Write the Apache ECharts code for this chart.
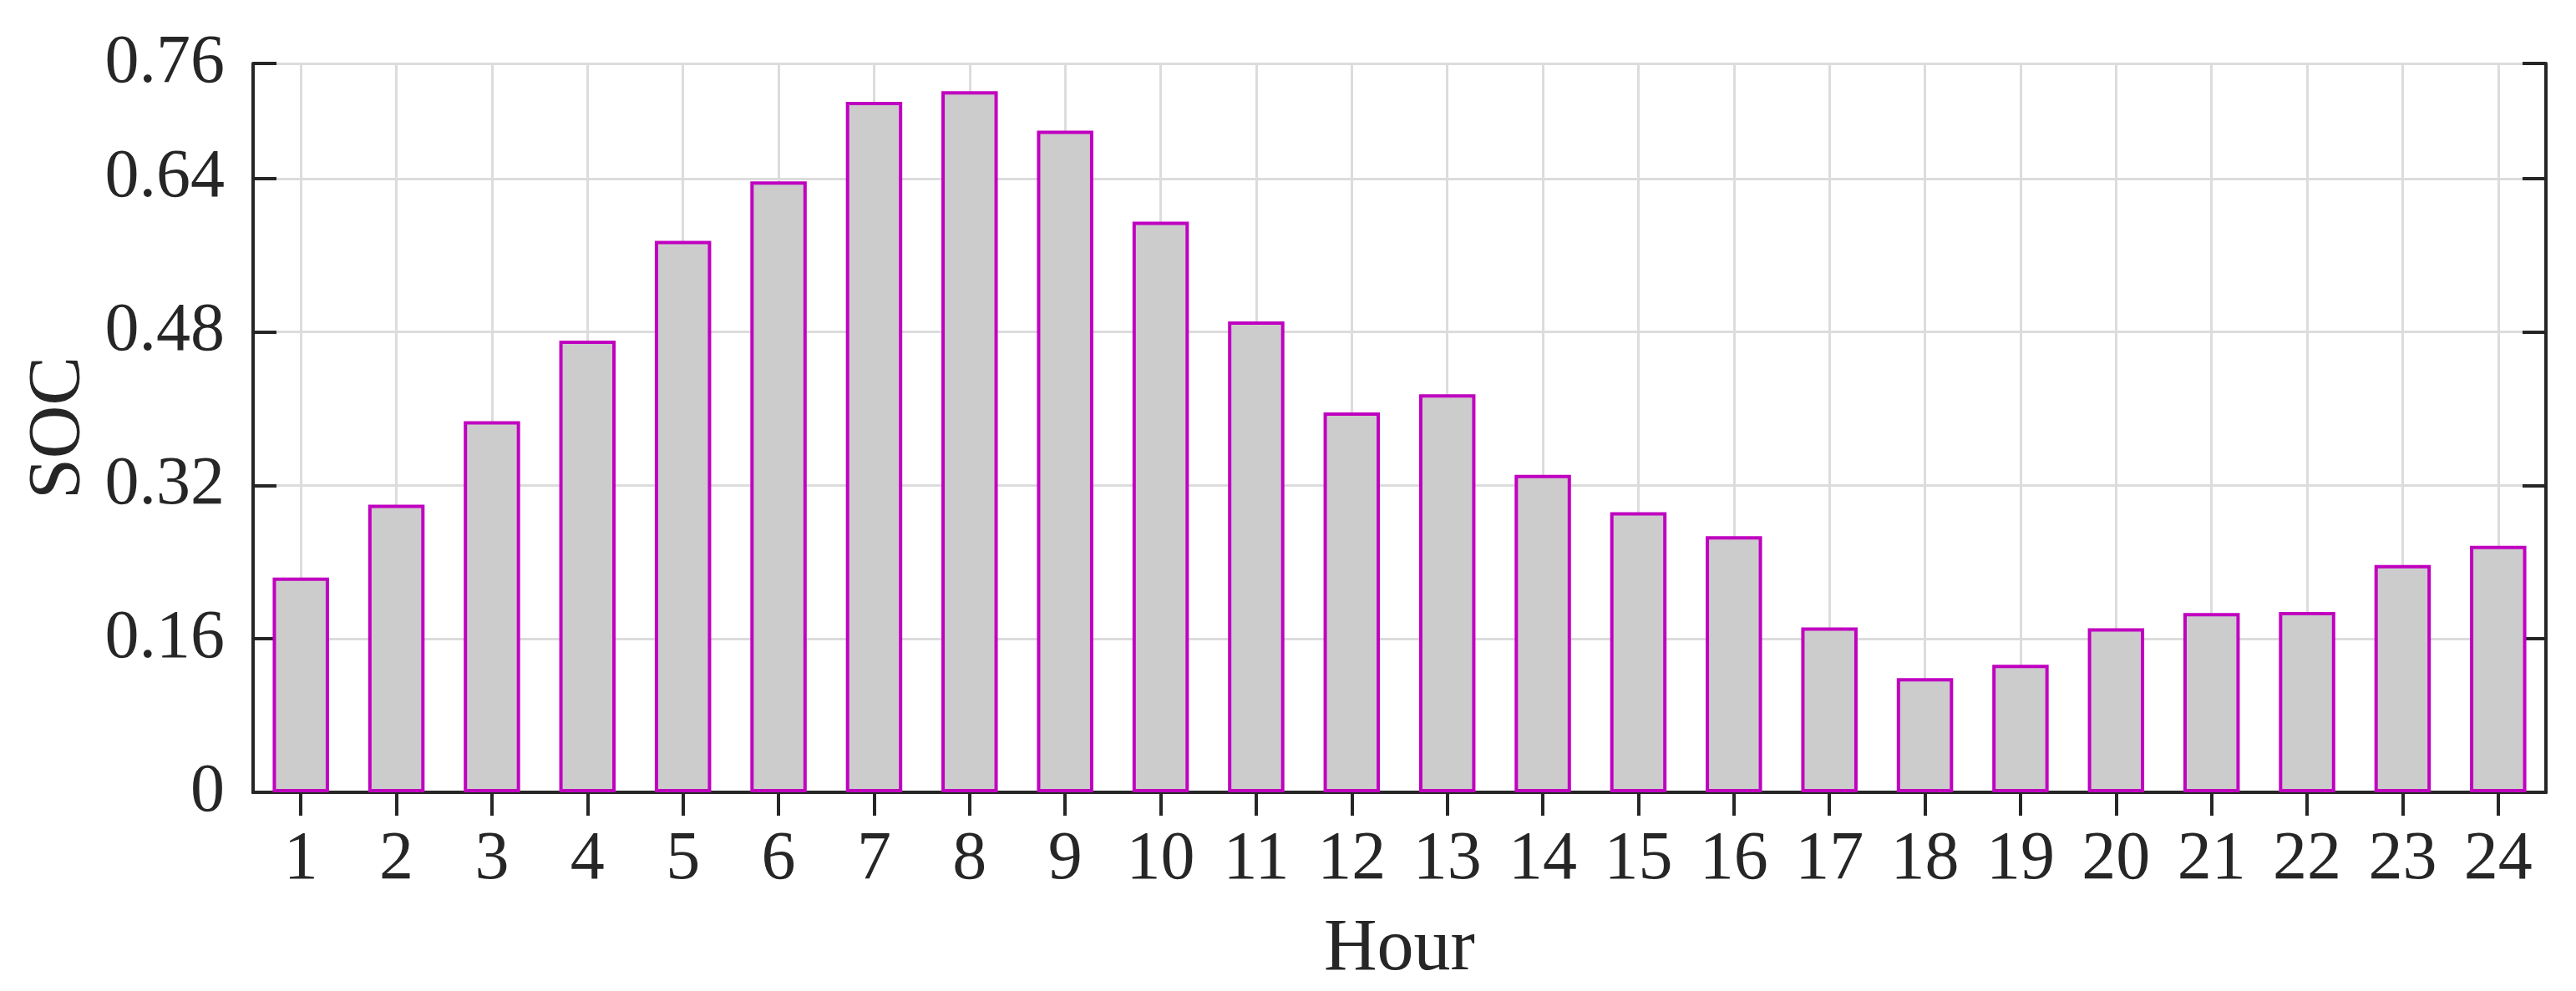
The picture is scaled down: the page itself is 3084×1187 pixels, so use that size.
<!DOCTYPE html>
<html>
<head>
<meta charset="utf-8">
<script src="https://cdn.jsdelivr.net/npm/echarts@6/dist/echarts.min.js"></script>
<style>
html,body{margin:0;padding:0;background:#fff;}
#chart{width:3084px;height:1187px;}
</style>
</head>
<body>
<div id="chart"></div>
<script>
const hours = ['1','2','3','4','5','6','7','8','9','10','11','12','13','14','15','16','17','18','19','20','21','22','23','24'];
const socValues = [0.224,0.300,0.387,0.471,0.575,0.637,0.720,0.731,0.690,0.595,0.491,0.396,0.415,0.331,0.292,0.267,0.172,0.119,0.133,0.171,0.187,0.188,0.237,0.257];
const yMin = 0, yMax = 0.76, yStep = 0.16;
const xName = 'Hour', yName = 'SOC';

// helper axis of half-bins so vertical grid lines fall on bar centres
const halfBins = [];
hours.forEach(h => { halfBins.push(h + 'a'); halfBins.push(h + 'b'); });

const FONT = '"Liberation Serif", "Times New Roman", serif';
const AX = '#262626';
const GRID = '#dcdcdc';
const chart = echarts.init(document.getElementById('chart'), null, {renderer:'canvas'});
const tickStyle = {show:true, inside:true, length:28, lineStyle:{color:AX, width:4}};
const lineStyle = {show:true, lineStyle:{color:AX, width:4}};
const fmt = v => v === 0 ? '0' : v.toFixed(2);
chart.setOption({
  animation:false,
  backgroundColor:'#ffffff',
  grid:{left:303, right:36, top:76, bottom:234, containLabel:false},
  xAxis:[
    {type:'category', data:hours, position:'bottom', boundaryGap:true,
     axisLine:{show:true, onZero:false, lineStyle:{color:'#111', width:4}},
     axisTick:Object.assign({alignWithLabel:true}, tickStyle),
     axisLabel:{fontFamily:FONT, fontSize:82, color:AX, margin:40},
     splitLine:{show:false},
     name:xName, nameLocation:'middle', nameGap:145,
     nameTextStyle:{fontFamily:FONT, fontSize:88, color:AX}},
    {type:'category', data:hours, position:'top', boundaryGap:true,
     axisLine:lineStyle,
     axisTick:Object.assign({alignWithLabel:true}, tickStyle),
     axisLabel:{show:false}, splitLine:{show:false}},
    {type:'category', data:halfBins, position:'bottom', boundaryGap:true,
     axisLine:{show:false}, axisTick:{show:false}, axisLabel:{show:false},
     splitLine:{show:true, interval:(idx) => idx % 2 === 1, lineStyle:{color:GRID, width:3}}}
  ],
  yAxis:[
    {type:'value', min:yMin, max:yMax, interval:yStep, position:'left',
     axisLine:lineStyle, axisTick:tickStyle,
     axisLabel:{fontFamily:FONT, fontSize:82, color:AX, margin:34, formatter:fmt},
     splitLine:{show:true, lineStyle:{color:GRID, width:3}},
     name:yName, nameLocation:'middle', nameGap:179, nameRotate:90,
     nameTextStyle:{fontFamily:FONT, fontSize:88, color:AX}},
    {type:'value', min:yMin, max:yMax, interval:yStep, position:'right',
     axisLine:lineStyle, axisTick:tickStyle,
     axisLabel:{show:false}, splitLine:{show:false}}
  ],
  series:[{
    type:'bar', data:socValues, xAxisIndex:0, yAxisIndex:0,
    barWidth:'59%',
    itemStyle:{color:'#cccccc', borderColor:'#c000c0', borderWidth:4}
  }]
});
</script>
</body>
</html>
